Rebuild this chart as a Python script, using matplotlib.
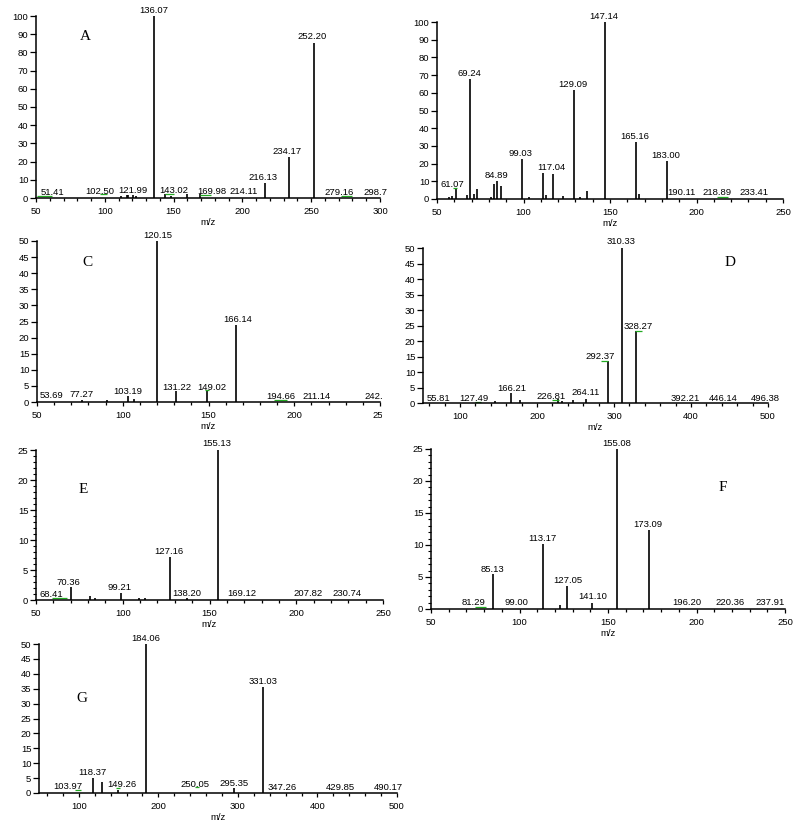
import matplotlib
matplotlib.use("Agg")
import matplotlib.pyplot as plt
from matplotlib.ticker import MultipleLocator
from matplotlib.transforms import Bbox, TransformedBbox

# ---------------- data ----------------
A_mz = [111.5, 115.9, 117.1, 120.8, 122.7, 136.07, 143.5, 148.0, 160.0, 169.2, 216.13, 234.17, 252.20]
A_int = [1.0, 1.5, 1.8, 1.5, 1.2, 100, 2.0, 1.0, 2.0, 2.0, 8.2, 22.5, 85.3]
A_lab = ["136.07", "252.20", "234.17", "216.13", "51.41", "102.50", "121.99", "143.02", "169.98", "214.11", "279.16", "298.7"]
A_lab_x = [135.8, 250.8, 232.7, 215.2, 61.9, 96.3, 120.7, 150.3, 177.7, 200.9, 270.0, 296.4]
A_lab_y = [101.6, 87.2, 24.4, 10.1, 1.8, 2.4, 2.9, 2.9, 2.4, 2.4, 1.8, 1.8]
A_green = [(50.5, 61.4, 1.1), (96.5, 101.8, 2.0), (143.8, 150.5, 2.4), (169.2, 177.2, 1.8), (271.4, 279.4, 1.1)]

B_mz = [56.7, 58.9, 61.07, 67.1, 69.24, 71.4, 72.9, 81.0, 83.1, 84.89, 86.8, 99.03, 102.9, 111.0,
        113.0, 117.04, 122.8, 129.09, 132.4, 136.6, 147.14, 165.16, 166.5, 183.00]
B_int = [1.0, 1.5, 5.5, 2.2, 67.6, 3.0, 5.8, 1.0, 8.3, 10.0, 7.2, 22.8, 1.0, 14.5,
         2.2, 14.3, 1.5, 61.4, 1.0, 4.7, 100, 32.4, 3.0, 21.5]
B_lab = ["147.14", "69.24", "129.09", "99.03", "84.89", "117.04", "165.16", "183.00", "61.07", "190.11", "218.89", "233.41"]
B_lab_x = [146.4, 68.5, 128.5, 98.3, 84.5, 116.4, 164.1, 182.2, 59.0, 191.3, 211.9, 233.3]
B_lab_y = [101.5, 69.3, 63.1, 24.3, 12.1, 16.2, 33.9, 23.0, 6.8, 2.1, 2.1, 2.1]
B_green = [(59.4, 61.4, 6.2), (211.9, 218.2, 1.3)]

C_mz = [76.0, 90.6, 103.19, 106.4, 120.15, 131.22, 149.02, 166.14]
C_int = [0.5, 0.7, 2.0, 0.8, 50, 3.3, 3.8, 23.8]
C_lab = ["120.15", "166.14", "131.22", "149.02", "103.19", "53.69", "77.27", "194.66", "211.14", "242.69"]
C_lab_x = [120.2, 167.0, 131.6, 151.8, 102.9, 58.6, 76.0, 192.3, 213.1, 249.3]
C_lab_y = [50.9, 24.7, 3.8, 3.8, 2.6, 1.2, 1.4, 1.0, 1.0, 1.0]
C_green = [(188.0, 196.0, 0.6), (148.0, 150.0, 3.6)]

D_mz = [145.6, 166.21, 178.3, 227.3, 232.5, 246.7, 264.11, 292.37, 310.33, 328.27]
D_int = [0.5, 3.1, 1.0, 1.2, 0.8, 0.9, 1.4, 13.4, 50, 23.2]
D_lab = ["310.33", "328.27", "292.37", "166.21", "264.11", "226.81", "127.49", "55.81", "392.21", "446.14", "496.38"]
D_lab_x = [309.5, 331.0, 281.5, 167.5, 263.4, 218.7, 117.6, 71.6, 392.0, 442.4, 496.6]
D_lab_y = [51.2, 23.9, 14.2, 4.0, 2.5, 1.3, 0.75, 0.75, 0.75, 0.75, 0.75]
D_green = [(119.0, 127.5, 0.3), (219.0, 228.0, 1.0), (283.7, 291.8, 13.7), (327.5, 336.0, 23.3)]

E_mz = [70.36, 80.9, 83.8, 99.21, 109.4, 112.9, 127.16, 137.3, 155.13]
E_int = [2.1, 0.7, 0.4, 1.2, 0.4, 0.3, 7.2, 0.3, 25]
E_lab = ["155.13", "127.16", "70.36", "99.21", "68.41", "138.20", "169.12", "207.82", "230.74"]
E_lab_x = [154.3, 126.3, 68.9, 97.9, 58.9, 137.0, 168.5, 207.1, 229.3]
E_lab_y = [25.6, 7.6, 2.5, 1.7, 0.55, 0.67, 0.67, 0.67, 0.67]
E_green = [(59.3, 68.0, 0.28)]

F_mz = [85.13, 113.17, 122.7, 127.05, 141.10, 155.08, 173.09]
F_int = [5.4, 10.2, 0.6, 3.6, 1.0, 25, 12.3]
F_lab = ["155.08", "173.09", "113.17", "85.13", "127.05", "141.10", "81.29", "99.00", "196.20", "220.36", "237.91"]
F_lab_x = [154.9, 172.4, 112.7, 84.7, 127.2, 141.3, 73.9, 98.0, 194.4, 218.9, 241.5]
F_lab_y = [25.5, 12.8, 10.7, 5.8, 4.1, 1.5, 0.57, 0.57, 0.57, 0.57, 0.57]
F_green = [(74.9, 81.1, 0.3)]

G_mz = [118.37, 129.0, 149.26, 184.06, 295.35, 331.03]
G_int = [4.9, 3.8, 1.1, 50, 1.7, 35.7]
G_lab = ["184.06", "331.03", "118.37", "103.97", "149.26", "250.05", "295.35", "347.26", "429.85", "490.17"]
G_lab_x = [183.9, 331.3, 117.6, 86.6, 153.7, 246.0, 295.6, 355.2, 428.6, 489.5]
G_lab_y = [50.9, 36.7, 5.9, 1.45, 1.9, 1.9, 2.2, 0.9, 0.9, 0.9]
G_green = [(95.0, 103.0, 1.1), (147.0, 152.0, 1.7), (246.0, 251.0, 2.0)]

# ---------------- figure ----------------
W, H = 800, 824
fig = plt.figure(figsize=(W / 100, H / 100), dpi=100)
FONT = "Liberation Sans"
FS = 6.8


def box(l, t, r, b):
    return [l / W, 1 - b / H, (r - l) / W, (b - t) / H]


def panel(rect, mz, inten, labs, lx, ly, green, xlim, ylim, xmaj, xmin, ymaj, ymin,
          letter=None, letter_px=None, clip_px=None):
    ax = fig.add_axes(box(*rect))
    ax.vlines(mz, 0, inten, colors="black", linewidth=1.2)
    for (x0, x1, y) in green:
        ax.hlines(y, x0, x1, colors="#22aa22", linewidth=0.9, clip_on=False)
    texts = []
    for t, x, y in zip(labs, lx, ly):
        tt = ax.text(x, y, t, ha="center", va="baseline", fontsize=FS, family=FONT, clip_on=False)
        texts.append(tt)
    ax.set_xlim(*xlim)
    ax.set_ylim(*ylim)
    ax.xaxis.set_major_locator(MultipleLocator(xmaj))
    ax.xaxis.set_minor_locator(MultipleLocator(xmin))
    ax.yaxis.set_major_locator(MultipleLocator(ymaj))
    if ymin:
        ax.yaxis.set_minor_locator(MultipleLocator(ymin))
    for s in ["top", "right"]:
        ax.spines[s].set_visible(False)
    for s in ["left", "bottom"]:
        ax.spines[s].set_linewidth(1.1)
    ax.tick_params(axis="x", which="major", direction="out", length=3, width=0.9, pad=3.5,
                   labelsize=FS)
    ax.tick_params(axis="x", which="minor", direction="out", length=2.5, width=0.9)
    ax.tick_params(axis="y", which="major", direction="out", length=4.5, width=0.9, pad=1,
                   labelsize=FS)
    ax.tick_params(axis="y", which="minor", direction="out", length=2.5, width=0.8)
    for lab in ax.get_xticklabels() + ax.get_yticklabels():
        lab.set_family(FONT)
    ax.set_xlabel("m/z", fontsize=FS, family=FONT, labelpad=1.5)
    if letter:
        fig.text(letter_px[0] / W, 1 - letter_px[1] / H, letter, fontsize=11,
                 family="Liberation Serif", ha="center", va="center")
    if clip_px is not None:
        cb = TransformedBbox(Bbox([[0, 0], [clip_px / W, 1]]), fig.transFigure)
        for t in texts:
            t.set_clip_on(True)
            t.set_clip_box(cb)
        for tk in ax.xaxis.get_major_ticks():
            tk.label1.set_clip_on(True)
            tk.label1.set_clip_box(cb)
    return ax


panel((36, 16, 380, 198), A_mz, A_int, A_lab, A_lab_x, A_lab_y, A_green,
      (50, 300), (0, 100), 50, 10, 10, None, "A", (85, 37))
panel((437, 22, 783, 199), B_mz, B_int, B_lab, B_lab_x, B_lab_y, B_green,
      (50, 250), (0, 100), 50, 10, 10, None)
panel((37, 241, 380, 402), C_mz, C_int, C_lab, C_lab_x, C_lab_y, C_green,
      (50, 250), (0, 50), 50, 10, 5, None, "C", (87, 262), clip_px=382)
panel((423, 248, 768, 403), D_mz, D_int, D_lab, D_lab_x, D_lab_y, D_green,
      (52, 500), (0, 50), 100, 20, 5, None, "D", (730, 263))
panel((36, 450, 383, 600), E_mz, E_int, E_lab, E_lab_x, E_lab_y, E_green,
      (50, 250), (0, 25), 50, 10, 5, 1, "E", (83, 490))
panel((431, 449, 785, 609), F_mz, F_int, F_lab, F_lab_x, F_lab_y, F_green,
      (50, 250), (0, 25), 50, 10, 5, 1, "F", (723, 488))
panel((39, 644, 397, 793), G_mz, G_int, G_lab, G_lab_x, G_lab_y, G_green,
      (50, 500), (0, 50), 100, 20, 5, None, "G", (82, 698))

fig.savefig("out.png", dpi=100, facecolor="white")
